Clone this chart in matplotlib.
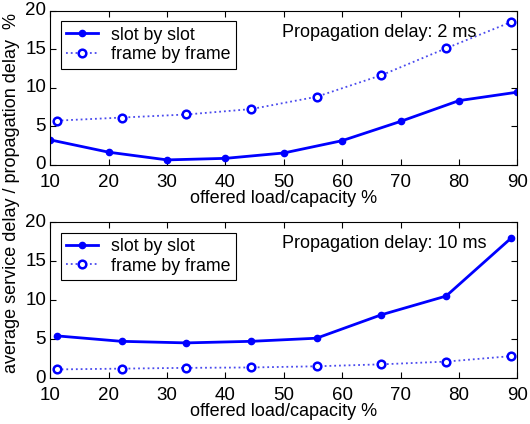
import matplotlib
matplotlib.use('Agg')
import matplotlib.pyplot as plt
from matplotlib.transforms import ScaledTranslation

# offered load/capacity %
x_slot_2ms = [10, 20, 30, 40, 50, 60, 70, 80, 90]
slot_2ms = [3.2, 1.6, 0.6, 0.8, 1.5, 3.1, 5.6, 8.3, 9.4]
x_frame = [11.1, 22.2, 33.3, 44.4, 55.6, 66.7, 77.8, 88.9]
frame_2ms = [5.7, 6.1, 6.5, 7.2, 8.8, 11.6, 15.1, 18.5]

slot_10ms = [5.4, 4.7, 4.5, 4.7, 5.1, 8.1, 10.5, 17.9]
frame_10ms = [1.1, 1.2, 1.3, 1.35, 1.5, 1.75, 2.1, 2.8]

xticks = [10, 20, 30, 40, 50, 60, 70, 80, 90]
yticks = [0, 5, 10, 15, 20]

plt.rcParams['font.family'] = ['Liberation Sans', 'DejaVu Sans']
blue = '#0000ff'

fig = plt.figure(figsize=(5.3, 4.24), dpi=100)
ax1 = fig.add_axes([0.095, 0.612, 0.881, 0.363])
ax2 = fig.add_axes([0.095, 0.1085, 0.881, 0.368])

panels = [
    (ax1, x_slot_2ms, slot_2ms, x_frame, frame_2ms, 'Propagation delay: 2 ms'),
    (ax2, x_frame, slot_10ms, x_frame, frame_10ms, 'Propagation delay: 10 ms'),
]
for ax, xs, ys, xf, yf, note in panels:
    ax.plot(xs, ys, '-', color=blue, linewidth=2, marker='o', markersize=4.5,
            label='slot by slot')
    ax.plot(xf, yf, ':', color='#4a4aee', linewidth=1.3, marker='o', markersize=5.5,
            markerfacecolor='white', markeredgecolor=blue, markeredgewidth=1.8,
            label='frame by frame')
    ax.set_xlim(10, 90)
    ax.set_ylim(0, 20)
    ax.set_xticks(xticks)
    ax.set_yticks(yticks)
    ax.tick_params(direction='in', top=True, right=True, labelsize=13.5, length=4)
    ax.tick_params(axis='x', pad=6.5)
    ax.tick_params(axis='y', pad=3)
    # small lift of the y labels so "0" clears the first x label
    up = ScaledTranslation(0, 1.4 / 72, fig.dpi_scale_trans)
    for lab in ax.get_yticklabels():
        lab.set_transform(lab.get_transform() + up)
    ax.set_xlabel('offered load/capacity %', fontsize=13, labelpad=-0.5)
    ax.text(0.497, 0.83, note, transform=ax.transAxes, fontsize=13)
    leg = ax.legend(loc='upper left', fontsize=12.8, fancybox=False, framealpha=1,
                    edgecolor='black', borderaxespad=0.6, handlelength=1.8,
                    handletextpad=0.7, labelspacing=0.15, borderpad=0.3)
    leg.get_frame().set_linewidth(0.8)

fig.text(0.022, 0.545, 'average service delay / propagation delay  %',
         rotation=90, va='center', ha='center', fontsize=13)

fig.savefig('out.png', dpi=100)
